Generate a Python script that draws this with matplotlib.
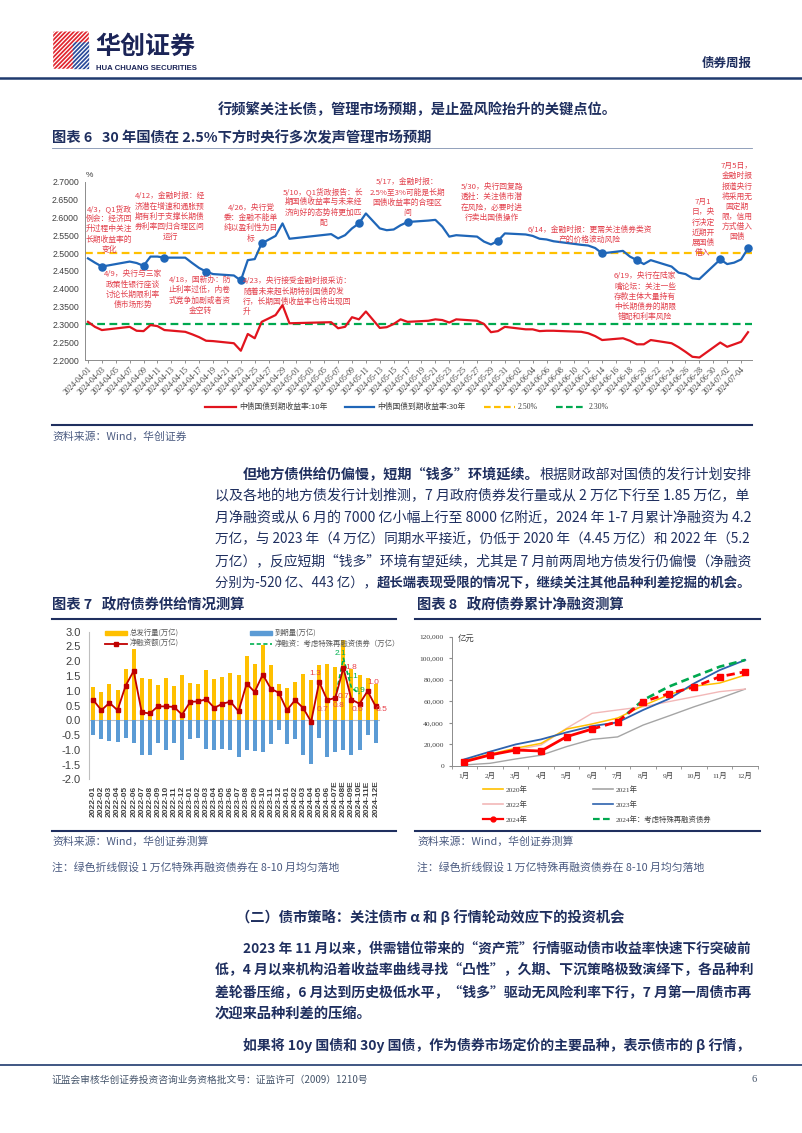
"""Rebuild bond weekly report page 6: yield events chart, supply bars, cumulative net financing."""

import matplotlib

matplotlib.use("Agg")
import matplotlib.pyplot as plt
import matplotlib.transforms as mtransforms
import numpy as np
import pandas as pd
from matplotlib.lines import Line2D
from matplotlib.patches import Polygon, Rectangle

# ---------------- chart 6: 10y / 30y government bond yields ----------------
trade_dates = [
    "2024-04-01", "2024-04-02", "2024-04-03", "2024-04-07", "2024-04-08", "2024-04-09",
    "2024-04-10", "2024-04-11", "2024-04-12", "2024-04-15", "2024-04-16", "2024-04-17",
    "2024-04-18", "2024-04-19", "2024-04-22", "2024-04-23", "2024-04-24", "2024-04-25",
    "2024-04-26", "2024-04-28", "2024-04-29", "2024-04-30", "2024-05-06", "2024-05-07",
    "2024-05-08", "2024-05-09", "2024-05-10", "2024-05-11", "2024-05-13", "2024-05-14",
    "2024-05-15", "2024-05-16", "2024-05-17", "2024-05-20", "2024-05-21", "2024-05-22",
    "2024-05-23", "2024-05-24", "2024-05-27", "2024-05-28", "2024-05-29", "2024-05-30",
    "2024-05-31", "2024-06-03", "2024-06-04", "2024-06-05", "2024-06-06", "2024-06-07",
    "2024-06-11", "2024-06-12", "2024-06-13", "2024-06-14", "2024-06-17", "2024-06-18",
    "2024-06-19", "2024-06-20", "2024-06-21", "2024-06-24", "2024-06-25", "2024-06-26",
    "2024-06-27", "2024-06-28", "2024-07-01", "2024-07-02", "2024-07-03", "2024-07-04",
    "2024-07-05",
]
yield_10y = [
    2.307, 2.293, 2.284, 2.293, 2.282, 2.281, 2.298, 2.295, 2.284, 2.279, 2.272, 2.264,
    2.254, 2.253, 2.247, 2.226, 2.273, 2.261, 2.307, 2.326, 2.354, 2.303, 2.306, 2.289,
    2.293, 2.320, 2.314, 2.336, 2.290, 2.292, 2.301, 2.314, 2.307, 2.310, 2.314, 2.312,
    2.305, 2.314, 2.310, 2.301, 2.278, 2.281, 2.293, 2.286, 2.286, 2.281, 2.282, 2.282,
    2.279, 2.275, 2.267, 2.256, 2.261, 2.254, 2.244, 2.244, 2.256, 2.247, 2.236, 2.223,
    2.209, 2.207, 2.249, 2.237, 2.244, 2.251, 2.278,
]
yield_30y = [
    2.485, 2.473, 2.462, 2.476, 2.472, 2.464, 2.490, 2.490, 2.487, 2.487, 2.472, 2.458,
    2.448, 2.441, 2.437, 2.423, 2.480, 2.483, 2.527, 2.548, 2.583, 2.540, 2.553, 2.541,
    2.550, 2.569, 2.583, 2.611, 2.569, 2.564, 2.566, 2.578, 2.587, 2.591, 2.593, 2.574,
    2.546, 2.550, 2.546, 2.532, 2.524, 2.534, 2.555, 2.552, 2.548, 2.540, 2.538, 2.533,
    2.523, 2.521, 2.514, 2.499, 2.506, 2.490, 2.480, 2.469, 2.480, 2.462, 2.445, 2.441,
    2.429, 2.427, 2.482, 2.469, 2.473, 2.482, 2.513,
]
event_dates = [
    "2024-04-03", "2024-04-09", "2024-04-12", "2024-04-18", "2024-04-23", "2024-04-26",
    "2024-05-10", "2024-05-17", "2024-05-30", "2024-06-14", "2024-06-19", "2024-07-01",
    "2024-07-05",
]
yield_ticks = [2.20, 2.25, 2.30, 2.35, 2.40, 2.45, 2.50, 2.55, 2.60, 2.65, 2.70]

# (text, x, first-line y, alignment) in page pixels
event_notes = [
    ("4/3，Q1货政\n例会：经济回\n升过程中关注\n长期收益率的\n变化", 109, 209, "center"),
    ("4/12，金融时报：经\n济潜在增速和通胀预\n期有利于支撑长期债\n券利率回归合理区间\n运行", 170, 197, "center"),
    ("4/26，央行党\n委：金融不能单\n纯以盈利性为目\n标", 251, 209, "center"),
    ("5/10，Q1货政报告：长\n期国债收益率与未来经\n济向好的态势将更加匹\n配", 323, 192, "center"),
    ("5/17，金融时报：\n2.5%至3%可能是长期\n国债收益率的合理区\n间", 407, 183, "center"),
    ("5/30，央行回复路\n透社：关注债市潜\n在风险，必要时进\n行卖出国债操作", 492, 188, "center"),
    ("6/14，金融时报：更需关注债券类资\n产的价格波动风险", 590, 231, "center"),
    ("6/19，央行在陆家\n嘴论坛：关注一些\n存款主体大量持有\n中长期债券的期限\n错配和利率风险", 645, 277, "center"),
    ("7月1\n日，央\n行决定\n近期开\n展国债\n借入", 703, 203, "center"),
    ("7月5日，\n金融时报\n报道央行\n将采用无\n固定期\n限，信用\n方式借入\n国债", 737, 167, "center"),
    ("4/9，央行与三家\n政策性银行座谈\n讨论长期限利率\n债市场形势", 133, 275, "center"),
    ("4/18，国新办：防\n止利率过低，内卷\n式竞争加剧或者资\n金空转", 200, 281, "center"),
    ("4/23，央行接受金融时报采访：\n随着未来超长期特别国债的发\n行，长期国债收益率也将出现回\n升", 243, 282, "left"),
]

# ---------------- chart 7: government bond supply (万亿) ----------------
supply_months = [
    "2022-01", "2022-02", "2022-03", "2022-04", "2022-05", "2022-06", "2022-07", "2022-08",
    "2022-09", "2022-10", "2022-11", "2022-12", "2023-01", "2023-02", "2023-03", "2023-04",
    "2023-05", "2023-06", "2023-07", "2023-08", "2023-09", "2023-10", "2023-11", "2023-12",
    "2024-01", "2024-02", "2024-03", "2024-04", "2024-05", "2024-06", "2024-07E", "2024-08E",
    "2024-09E", "2024-10E", "2024-11E", "2024-12E",
]
gross_issue = [
    1.13, 0.96, 1.24, 1.02, 1.73, 2.40, 1.44, 1.39, 1.21, 1.44, 1.16, 1.55,
    1.26, 1.22, 1.69, 1.39, 1.47, 1.61, 1.52, 2.18, 1.92, 2.56, 1.86, 1.22,
    1.09, 1.28, 1.56, 1.38, 1.86, 1.92, 1.81, 2.71, 1.72, 1.52, 1.44, 1.24,
]
maturity = [
    -0.49, -0.65, -0.70, -0.73, -0.59, -0.76, -1.19, -1.19, -0.77, -1.02, -0.76, -1.35,
    -0.64, -0.60, -0.99, -1.02, -0.96, -1.02, -1.26, -1.02, -1.04, -1.09, -0.81, -0.34,
    -0.81, -0.64, -1.19, -1.49, -0.59, -1.26, -1.09, -1.02, -1.19, -1.02, -0.51, -0.77,
]
net_financing = [
    0.68, 0.34, 0.59, 0.34, 1.17, 1.67, 0.27, 0.23, 0.47, 0.47, 0.45, 0.19,
    0.62, 0.64, 0.71, 0.42, 0.56, 0.63, 0.30, 1.24, 0.96, 1.55, 1.07, 0.93,
    0.34, 0.68, 0.42, -0.05, 1.30, 0.68, 0.76, 1.77, 0.70, 0.56, 0.99, 0.47,
]
special_idx = [30, 31, 32, 33]
net_with_special = [0.76, 2.10, 1.10, 0.90]

# ---------------- chart 8: cumulative net financing (亿元) ----------------
cum_months = ["1月", "2月", "3月", "4月", "5月", "6月", "7月", "8月", "9月", "10月", "11月", "12月"]
cum_2020 = [5000, 11000, 16500, 21000, 34300, 39000, 44500, 56000, 66000, 74000, 77000, 84400]
cum_2021 = [1000, 2500, 6500, 10000, 18000, 24700, 27000, 38000, 46400, 55000, 62800, 71400]
cum_2022 = [4000, 10000, 15000, 19500, 35000, 48900, 52000, 55000, 59700, 64300, 69000, 71400]
cum_2023 = [6200, 13300, 20000, 24700, 31200, 37000, 40500, 52000, 62200, 76700, 89000, 98400]
cum_2024 = [4000, 10200, 14800, 13900, 27200, 34300, 41100, 59700, 67100, 73300, 82900, 87500]
cum_2024_special = [41100, 61200, 73600, 83000, 92200, 98400]  # 7月-12月

W, H = 802, 1133
NAVY = "#1f2f5f"
NOTE_RED = "#e2404c"
GREY = "#404040"
CJK = ["Noto Sans CJK SC", "DejaVu Sans"]
SANS = ["Liberation Sans", "Noto Sans CJK SC"]
SERIF = ["Liberation Serif", "Noto Sans CJK SC"]
plt.rcParams["font.family"] = CJK
plt.rcParams["axes.unicode_minus"] = False

fig = plt.figure(figsize=(W / 100, H / 100), dpi=100)
renderer = fig.canvas.get_renderer()


def fx(x):
    return x / W


def fy(y):
    return 1 - y / H


def box(left, top, right, bottom):
    return [fx(left), fy(bottom), (right - left) / W, (bottom - top) / H]


def put(x, y, s, size=10.3, color=NAVY, weight="normal", ha="left", va="center", **kw):
    return fig.text(fx(x), fy(y), s, fontsize=size, color=color, fontweight=weight,
                    ha=ha, va=va, **kw)


def hline(x0, x1, y, color=NAVY, lw=1.0, **kw):
    fig.add_artist(Line2D([fx(x0), fx(x1)], [fy(y), fy(y)], color=color, lw=lw, **kw))


def text_line(x, y, parts, size=10.3, right=None):
    """Runs of (text, weight) side by side, stretched to `right` when given."""
    def draw(sz):
        arts, cur = [], x
        for s, w in parts:
            t = put(cur, y, s, size=sz, weight=w)
            cur += t.get_window_extent(renderer).width
            arts.append(t)
        return arts, cur

    arts, end = draw(size)
    if right is not None:
        for a in arts:
            a.remove()
        scale = (right - x) / (end - x)
        draw(size * min(max(scale, 0.9), 1.1))


# ---------------- page header ----------------
logo = fig.add_axes(box(52, 31, 90, 70))
logo.set_xlim(0, 1)
logo.set_ylim(0, 1)
logo.axis("off")
logo.add_patch(Polygon([(0.05, 0.05), (0.55, 0.05), (0.55, 0.72), (0.30, 0.97), (0.05, 0.97)],
                       color="#e1252e"))
logo.add_patch(Polygon([(0.55, 0.05), (0.95, 0.05), (0.95, 0.72), (0.55, 0.72)], color="#2a4a9a"))
logo.add_patch(Polygon([(0.30, 0.97), (0.55, 0.72), (0.95, 0.72), (0.95, 0.97)], color="#e1252e"))
for k in np.arange(-0.9, 1.0, 0.11):
    logo.plot([k, k + 1], [0, 1], color="white", lw=0.9, clip_on=True)
logo.add_patch(Rectangle((0.55, 0.05), 0.4, 0.67, fill=False, ec="#2a4a9a", lw=0.5))

put(95, 47, "华创证券", size=18, color="#1b2457", weight="heavy")
put(96, 68, "HUA CHUANG SECURITIES", size=5.6, color="#1b2457", weight="bold", family=SANS)
put(752, 63, "债券周报", size=9, color=NAVY, weight="bold", ha="right")
hline(0, W, 78, color="#1f3a6e", lw=1.8)

put(218, 110, "行频繁关注长债，管理市场预期，是止盈风险抬升的关键点位。", weight="bold")
put(52, 138, "图表 6   30 年国债在 2.5%下方时央行多次发声管理市场预期", weight="bold")
hline(52, 752, 148, color="#8090b0", lw=0.6)

# ---------------- chart 6 ----------------
start = pd.Timestamp("2024-04-01")
day_x = (pd.to_datetime(trade_dates) - start).days.to_numpy()
ev_x = (pd.to_datetime(event_dates) - start).days.to_numpy()
y30_by_date = dict(zip(trade_dates, yield_30y))
ev_y = [y30_by_date[d] for d in event_dates]

ax6 = fig.add_axes(box(84.5, 181.7, 751.5, 360))
ax6.plot(day_x, yield_10y, color="#e1141e", lw=1.6, zorder=3)
ax6.plot(day_x, yield_30y, color="#1f66b8", lw=1.6, zorder=3)
ax6.scatter(ev_x, ev_y, s=26, color="#1f66b8", zorder=4)
ax6.axhline(2.5, color="#ffc000", lw=1.6, ls=(0, (3.5, 2)), zorder=2)
ax6.axhline(2.3, color="#00a84f", lw=1.6, ls=(0, (3.5, 2)), zorder=2)
ax6.set_xlim(-0.5, 95.5)
ax6.set_ylim(2.2, 2.7)
ax6.set_yticks(yield_ticks)
ax6.set_yticklabels([f"{v:.4f}" for v in yield_ticks], fontsize=6.3, color=GREY, family=SANS)
tick_days = np.arange(0, 95, 2)
ax6.set_xticks(tick_days)
ax6.set_xticklabels([(start + pd.Timedelta(days=int(d))).strftime("%Y-%m-%d") for d in tick_days],
                    rotation=45, ha="right", rotation_mode="anchor", fontsize=5.6,
                    color=GREY, family=SERIF)
ax6.tick_params(axis="x", length=2.5, width=0.6, color="#7f7f7f", pad=1.5)
ax6.tick_params(axis="y", length=0, pad=4)
for side in ("top", "right"):
    ax6.spines[side].set_visible(False)
for side in ("left", "bottom"):
    ax6.spines[side].set_color("#8c8c8c")
    ax6.spines[side].set_linewidth(0.7)
ax6.patch.set_alpha(0)
put(86, 176, "%", size=6, color=GREY, family=SANS)

for txt, x, y, ha in event_notes:
    put(x, y - 5, txt, size=5.6, color=NOTE_RED, ha=ha, va="top", linespacing=1.35,
        multialignment=ha)

# legend of chart 6
legend6 = [
    ("中债国债到期收益率:10年", "#e1141e", "-", 205, 236),
    ("中债国债到期收益率:30年", "#1f66b8", "-", 345, 374),
    ("2.50%", "#ffc000", (0, (3, 1.5)), 484, 515),
    ("2.30%", "#00a84f", (0, (3, 1.5)), 556, 586),
]
for label, color, ls, x0, x1 in legend6:
    hline(x0, x1, 407, color=color, lw=1.6, ls=ls)
    put(x1 + 3, 407, label, size=5.6, color=GREY, family=SERIF if "%" in label else CJK)

hline(52, 752, 425, color=NAVY, lw=1.5)
put(52, 437, "资料来源：Wind，华创证券", size=7.8, color="#4a5a80", style="italic")

# ---------------- paragraph ----------------
para1 = [
    (243, [("但地方债供给仍偏慢，短期“钱多”环境延续。", "bold"), ("根据财政部对国债的发行计划安排", "normal")]),
    (215, [("以及各地的地方债发行计划推测，7 月政府债券发行量或从 2 万亿下行至 1.85 万亿，单", "normal")]),
    (215, [("月净融资或从 6 月的 7000 亿小幅上行至 8000 亿附近，2024 年 1-7 月累计净融资为 4.2", "normal")]),
    (215, [("万亿，与 2023 年（4 万亿）同期水平接近，仍低于 2020 年（4.45 万亿）和 2022 年（5.2", "normal")]),
    (215, [("万亿），反应短期“钱多”环境有望延续，尤其是 7 月前两周地方债发行仍偏慢（净融资", "normal")]),
    (215, [("分别为-520 亿、443 亿），", "normal"), ("超长端表现受限的情况下，继续关注其他品种利差挖掘的机会。", "bold")]),
]
for i, (x, parts) in enumerate(para1):
    text_line(x, 475 + i * 21.6, parts, right=750)

put(52, 605, "图表 7   政府债券供给情况测算", weight="bold")
put(417, 605, "图表 8   政府债券累计净融资测算", weight="bold")
hline(52, 396, 619, color=NAVY, lw=1.5)
hline(415, 760, 619, color=NAVY, lw=1.5)

# ---------------- chart 7 ----------------
ax7 = fig.add_axes(box(89.3, 631.7, 379.7, 779.3))
xi = np.arange(len(supply_months))
ax7.bar(xi, gross_issue, width=0.5, color="#ffc000", zorder=2)
ax7.bar(xi, maturity, width=0.5, color="#5b9bd5", zorder=2)
ax7.axhline(0, color="#bfbfbf", lw=0.8, zorder=1)
ax7.plot(special_idx, net_with_special, color="#00b050", lw=1.2, ls=(0, (2.5, 1.5)), zorder=3)
ax7.plot(xi, net_financing, color="#c00000", lw=1.3, marker="s", ms=2.4, zorder=4)
ax7.set_xlim(-0.5, len(supply_months) - 0.5)
ax7.set_ylim(-2.0, 3.0)
ax7.set_yticks(np.arange(-2.0, 3.01, 0.5))
ax7.set_yticklabels([f"{v:.1f}" for v in np.arange(-2.0, 3.01, 0.5)], fontsize=8, color=GREY,
                    family=SANS)
ax7.tick_params(axis="y", length=0, pad=6)
ax7.set_xticks([])
for side in ("top", "right", "bottom"):
    ax7.spines[side].set_visible(False)
ax7.spines["left"].set_color("#bfbfbf")
ax7.patch.set_alpha(0)
label_tf = mtransforms.blended_transform_factory(ax7.transData, fig.transFigure)
for i, lab in enumerate(supply_months):
    ax7.text(i, fy(817), lab, transform=label_tf, rotation=90, ha="center", va="bottom",
             fontsize=6, fontweight="bold", color=GREY, family=SANS)

red_labels = [(28, -4, 8), (29, -5, -9), (30, 3, -8), (31, 8, 1), (32, -8, 3),
              (33, -2, -6), (34, 6, 9), (35, 6, -3)]
for i, dx, dy in red_labels:
    ax7.annotate(f"{net_financing[i]:.1f}", (i, net_financing[i]), xytext=(dx, dy),
                 textcoords="offset pixels", ha="center", va="center", fontsize=6,
                 color="#e8404a", family=SANS, zorder=5)
green_offsets = [(-3, 5), (1, 11), (0, 3)]
for (dx, dy), i, v in zip(green_offsets, special_idx[1:], net_with_special[1:]):
    ax7.annotate(f"{v:.1f}", (i, v), xytext=(dx, dy), textcoords="offset pixels",
                 ha="center", va="center", fontsize=6, color="#00b050", family=SANS, zorder=5)

# legend of chart 7
fig.add_artist(Rectangle((fx(105), fy(634.5)), (127 - 105) / W, 4 / H, color="#ffc000"))
fig.add_artist(Rectangle((fx(250), fy(634.5)), (272 - 250) / W, 4 / H, color="#5b9bd5"))
hline(105, 127, 644, color="#c00000", lw=1.3)
fig.add_artist(Line2D([fx(116)], [fy(644)], marker="s", ms=2.4, color="#c00000"))
hline(250, 272, 644, color="#00b050", lw=1.2, ls=(0, (2.5, 1.5)))
for x, y, s in [(130, 632.5, "总发行量(万亿)"), (275, 632.5, "到期量(万亿)"),
                (130, 644, "净融资额(万亿)"), (275, 644, "净融资：考虑特殊再融资债券（万亿）")]:
    put(x, y, s, size=5.3, color="#595959")

# ---------------- chart 8 ----------------
ax8 = fig.add_axes(box(451.7, 636.7, 758, 766))
mi = np.arange(len(cum_months))
ax8.plot(mi, cum_2021, color="#a5a5a5", lw=1.0)
ax8.plot(mi, cum_2022, color="#f2b8b8", lw=1.0)
ax8.plot(mi, cum_2020, color="#ffc000", lw=1.1)
ax8.plot(mi, cum_2023, color="#2e62ae", lw=1.3)
ax8.plot(mi[6:], cum_2024_special, color="#00a84f", lw=1.9, ls=(0, (3, 1.8)))
ax8.plot(mi[:6], cum_2024[:6], color="#ff0000", lw=2.0)
ax8.plot(mi[5:], cum_2024[5:], color="#ff0000", lw=2.0, ls=(0, (3, 1.8)))
ax8.plot(mi, cum_2024, ls="none", marker="s", ms=4.2, color="#ff0000")
ax8.set_xlim(-0.5, len(cum_months) - 0.5)
ax8.set_ylim(0, 120000)
ax8.set_yticks(np.arange(0, 120001, 20000))
ax8.set_yticklabels([f"{v:,}" for v in range(0, 120001, 20000)], fontsize=5.4, color=GREY,
                    family=SERIF)
ax8.set_xticks(mi)
ax8.set_xticklabels(cum_months, fontsize=5.4, color=GREY, family=SERIF)
ax8.set_xticks(np.arange(-0.5, 12, 1), minor=True)
ax8.tick_params(axis="x", which="major", length=0, pad=4)
ax8.tick_params(axis="x", which="minor", length=2.5, color="#8c8c8c")
ax8.tick_params(axis="y", length=2.5, color="#8c8c8c", pad=3)
for side in ("top", "right"):
    ax8.spines[side].set_visible(False)
for side in ("left", "bottom"):
    ax8.spines[side].set_color("#8c8c8c")
    ax8.spines[side].set_linewidth(0.7)
ax8.patch.set_alpha(0)
put(458, 638, "亿元", size=6, color=GREY)

legend8 = [
    ("2020年", "#ffc000", "-", None, 483, 789),
    ("2021年", "#a5a5a5", "-", None, 593, 789),
    ("2022年", "#f2b8b8", "-", None, 483, 804),
    ("2023年", "#2e62ae", "-", None, 593, 804),
    ("2024年", "#ff0000", "-", "o", 483, 819),
    ("2024年：考虑特殊再融资债券", "#00a84f", (0, (3, 1.5)), None, 593, 819),
]
for label, color, ls, mk, x0, y in legend8:
    hline(x0, x0 + 20, y, color=color, lw=1.6 if mk or ls != "-" else 1.2, ls=ls)
    if mk:
        fig.add_artist(Line2D([fx(x0 + 10)], [fy(y)], marker=mk, ms=3.5, color=color))
    put(x0 + 23, y, label, size=5.3, color=GREY, family=SERIF)

hline(52, 396, 831, color=NAVY, lw=1.5)
hline(415, 760, 831, color=NAVY, lw=1.5)
for x in (52, 417):
    put(x, 842, "资料来源：Wind，华创证券测算", size=7.8, color="#4a5a80", style="italic")
    put(x, 867, "注：绿色折线假设 1 万亿特殊再融资债券在 8-10 月均匀落地", size=7.8,
        color="#4a5a80", style="italic")

# ---------------- strategy section ----------------
put(236, 917, "（二）债市策略：关注债市 α 和 β 行情轮动效应下的投资机会", weight="bold")
para2 = [
    (243, "2023 年 11 月以来，供需错位带来的“资产荒”行情驱动债市收益率快速下行突破前", 750),
    (215, "低，4 月以来机构沿着收益率曲线寻找“凸性”，久期、下沉策略极致演绎下，各品种利", 750),
    (215, "差轮番压缩，6 月达到历史极低水平，“钱多”驱动无风险利率下行，7 月第一周债市再", 750),
    (215, "次迎来品种利差的压缩。", None),
]
for i, (x, s, right) in enumerate(para2):
    text_line(x, 949 + i * 21.5, [(s, "bold")], right=right)
text_line(243, 1045, [("如果将 10y 国债和 30y 国债，作为债券市场定价的主要品种，表示债市的 β 行情，", "bold")],
          right=750)

hline(0, W, 1065, color="#1f3a6e", lw=1.2)
put(52, 1080, "证监会审核华创证券投资咨询业务资格批文号：证监许可（2009）1210号", size=7,
    color="#44546a")
put(757, 1080, "6", size=7.5, color="#44546a", ha="right", family=SERIF)

fig.savefig("out.png", dpi=100)
